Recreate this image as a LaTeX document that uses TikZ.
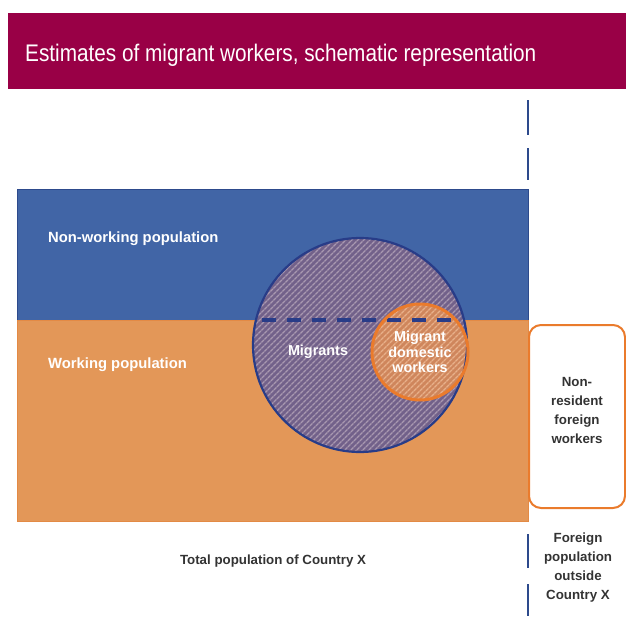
\documentclass[tikz,border=0pt]{standalone}
\usepackage{fontspec}
\setmainfont{Liberation Sans}
\newfontfamily\titlefont{Liberation Sans}[FakeStretch=0.865]
\usetikzlibrary{patterns.meta}
\definecolor{crimson}{HTML}{990046}
\definecolor{popblue}{HTML}{4165A6}
\definecolor{popblueedge}{HTML}{2D4A8C}
\definecolor{poporange}{HTML}{E39758}
\definecolor{poporangeedge}{HTML}{E38A45}
\definecolor{migbase}{HTML}{72618A}
\definecolor{migstripe}{HTML}{A898B0}
\definecolor{domorange}{HTML}{CF865C}
\definecolor{domstripe}{HTML}{E8B08A}
\definecolor{domedge}{HTML}{EA7B2C}
\definecolor{circedge}{HTML}{283C88}
\definecolor{darktext}{HTML}{333333}
\tikzset{
  whitelabel/.style={text=white,font=\bfseries\fontsize{14.8}{17}\selectfont,anchor=base west,inner sep=0pt},
  sidelabel/.style={text=darktext,font=\bfseries\fontsize{13.3}{19}\selectfont,align=center,inner sep=0pt},
  seg/.style={popblueedge,line width=2.8pt},
}
\begin{document}
\begin{tikzpicture}[x=1pt,y=-1pt]
\useasboundingbox (0,0) rectangle (626,621);
% title bar
\fill[crimson] (8,13) rectangle (626,89);
\node[anchor=base west,inner sep=0pt,text=white,font=\titlefont\fontsize{24}{28}\selectfont] (title) at (25,61) {Estimates of migrant workers, schematic representation};
% population rectangles
\draw[fill=popblue,draw=popblueedge,line width=1pt] (17,189) rectangle (528,320);
\draw[fill=poporange,draw=poporangeedge,line width=1pt] (17,320) rectangle (528,521);
\node[whitelabel] (nonworking) at (48,242) {Non-working population};
\node[whitelabel] (working) at (48,368) {Working population};
% migrants circle
\fill[migbase] (360,345) circle (107);
\fill[pattern={Lines[angle=45,distance=4pt,line width=1.5pt]},pattern color=migstripe] (360,345) circle (107);
% domestic workers circle
\fill[domorange] (420,352) circle (48);
\fill[pattern={Lines[angle=45,distance=4pt,line width=1.5pt]},pattern color=domstripe] (420,352) circle (48);
% dashed boundary inside circle
\coordinate (dl) at (262,320);
\coordinate (dr) at (458,320);
\draw[circedge,line width=3.4pt,dash pattern=on 14pt off 11pt] (dl) -- (dr);
\draw[circedge,line width=2.2pt] (360,345) circle (107);
\draw[domedge,line width=3pt] (420,352) circle (48);
\node[text=white,font=\bfseries\fontsize{14.4}{16}\selectfont,inner sep=0pt] (migrants) at (318,352) {Migrants};
\node[text=white,font=\bfseries\fontsize{14.4}{15.5}\selectfont,align=center,inner sep=0pt] (domestic) at (420,352) {Migrant\\domestic\\workers};
% non-resident box
\draw[domedge,line width=2pt,rounded corners=12pt,fill=white] (529,325) rectangle (625,508);
\node[sidelabel] (nonres) at (577,410) {Non-\\resident\\foreign\\workers};
% vertical boundary segments
\coordinate (t1a) at (528,100); \coordinate (t1b) at (528,135);
\coordinate (t2a) at (528,148); \coordinate (t2b) at (528,180);
\coordinate (b1a) at (528,534); \coordinate (b1b) at (528,568);
\coordinate (b2a) at (528,584); \coordinate (b2b) at (528,616);
\draw[seg] (t1a) -- (t1b);
\draw[seg] (t2a) -- (t2b);
\draw[seg] (b1a) -- (b1b);
\draw[seg] (b2a) -- (b2b);
% bottom labels
\node[sidelabel,anchor=base] (total) at (273,564) {Total population of Country X};
\node[sidelabel] (foreign) at (578,568) {Foreign\\population\\outside\\Country X};
\end{tikzpicture}
\end{document}
